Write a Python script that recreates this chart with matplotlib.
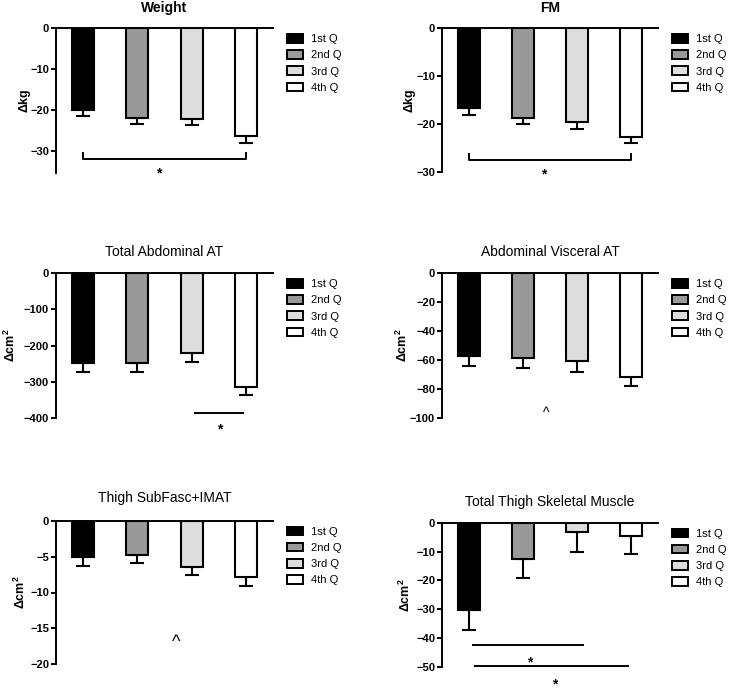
import matplotlib
matplotlib.use('Agg')
import matplotlib.pyplot as plt
from matplotlib.patches import Patch

plt.rcParams['font.family'] = ['Liberation Sans', 'DejaVu Sans']
plt.rcParams['mathtext.default'] = 'regular'

# Quartile groups and bar colours
groups = ['1st Q', '2nd Q', '3rd Q', '4th Q']
colors = ['#000000', '#999999', '#dddddd', '#ffffff']

# Mean change and SEM (lower error) for each panel
weight_mean = [-20.0, -21.9, -22.1, -26.3]
weight_err = [1.6, 1.5, 1.6, 1.7]
fm_mean = [-16.6, -18.7, -19.6, -22.7]
fm_err = [1.5, 1.4, 1.4, 1.2]
tat_mean = [-247, -248, -221, -315]
tat_err = [25, 24, 24, 21]
vat_mean = [-57.4, -58.7, -60.6, -71.7]
vat_err = [7.1, 7.0, 7.6, 6.2]
imat_mean = [-5.0, -4.8, -6.4, -7.9]
imat_err = [1.25, 1.15, 1.2, 1.2]
sm_mean = [-30.2, -12.7, -3.2, -4.6]
sm_err = [7.0, 6.4, 6.8, 6.2]

titles = ['Weight', 'FM', 'Total Abdominal AT', 'Abdominal Visceral AT',
          'Thigh SubFasc+IMAT', 'Total Thigh Skeletal Muscle']
ylabels = ['Δkg', 'Δkg', 'Δcm$^{2}$', 'Δcm$^{2}$', 'Δcm$^{2}$', 'Δcm$^{2}$']
yticks = [[0, -10, -20, -30], [0, -10, -20, -30], [0, -100, -200, -300, -400],
          [0, -20, -40, -60, -80, -100], [0, -5, -10, -15, -20],
          [0, -10, -20, -30, -40, -50]]
ybottom = [-35.4, -30, -400, -100, -20, -50]

# significance marks: (x0, x1, y, end tick height or None)
brackets = [[(0, 3, -31.9, 1.4)], [(0, 3, -27.4, 1.2)], [(2.06, 2.94, -385, None)],
            [], [], [(0.08, 2.12, -42.5, None), (0.11, 2.95, -49.8, None)]]
# symbols: (x, y, text, size)
symbols = [[(1.4, -35.6, '*', 10)], [(1.38, -30.5, '*', 10)],
           [(2.52, -432, '*', 10)], [(1.43, -96.5, '^', 10)],
           [(1.72, -17.0, '^', 13)],
           [(1.12, -48.5, '*', 10), (1.58, -56.2, '*', 10)]]

panel_means = [weight_mean, fm_mean, tat_mean, vat_mean, imat_mean, sm_mean]
panel_errs = [weight_err, fm_err, tat_err, vat_err, imat_err, sm_err]

W, H = 729, 694
# axes boxes in pixels: left, top zero line, right, bottom
boxes = [(56, 28, 273, 173), (442, 28, 658, 172),
         (56, 273, 273, 418), (442, 273, 658, 417.7),
         (56, 520.7, 273, 664.3), (442, 522.7, 658, 667)]
label_off = [26, 27, 38, 32, 28, 29]
title_off = [20, 20, 21, 21, 22.7, 20.7]

fig = plt.figure(figsize=(W / 100, H / 100), dpi=100)

for i in range(6):
    l, t, r, b = boxes[i]
    ax = fig.add_axes([l / W, 1 - b / H, (r - l) / W, (b - t) / H])
    x = range(4)
    ax.errorbar(x, panel_means[i], yerr=[panel_errs[i], [0] * 4], fmt='none',
                ecolor='black', elinewidth=1.5, capsize=4.7, capthick=1.5,
                zorder=1)
    ax.bar(x, panel_means[i], width=0.41, color=colors, edgecolor='black',
           linewidth=1.5, zorder=2)
    ax.set_xlim(-0.5, 3.5)
    ax.set_ylim(ybottom[i], 0)
    ax.set_yticks(yticks[i])
    ax.set_xticks([])
    for s in ['bottom', 'right']:
        ax.spines[s].set_visible(False)
    for s in ['top', 'left']:
        ax.spines[s].set_linewidth(1.4)
    ax.tick_params(axis='y', direction='out', length=3.5, width=1.4,
                   labelsize=8, pad=1.5)
    for lab in ax.get_yticklabels():
        lab.set_fontweight('bold')
    ax.set_ylabel(ylabels[i], fontsize=9, fontweight='bold')
    ax.yaxis.set_label_coords(-label_off[i] / (r - l), 0.5)
    bold = 'bold' if i < 2 else 'normal'
    ax.text(0.5, 1 + title_off[i] / (b - t), titles[i], transform=ax.transAxes,
            ha='center', va='center', fontsize=10, fontweight=bold)

    for x0, x1, y, tick in brackets[i]:
        if tick is None:
            ax.plot([x0, x1], [y, y], color='black', lw=1.4, clip_on=False)
        else:
            ax.plot([x0, x0, x1, x1], [y + tick, y, y, y + tick],
                    color='black', lw=1.4, clip_on=False)
    for sx, sy, txt, size in symbols[i]:
        ax.text(sx, sy, txt, ha='center', va='center', fontsize=size,
                fontweight='bold' if txt == '*' else 'normal', clip_on=False)

    handles = [Patch(facecolor=c, edgecolor='black', linewidth=1.4)
               for c in colors]
    ax.legend(handles, groups, loc='upper left', frameon=False,
              bbox_to_anchor=(1 + 14 / (r - l), 1 - 6 / (b - t)),
              borderaxespad=0, borderpad=0, fontsize=8, handlelength=1.4,
              handleheight=0.8, handletextpad=0.8, labelspacing=0.55)

fig.savefig('out.png', dpi=100)
